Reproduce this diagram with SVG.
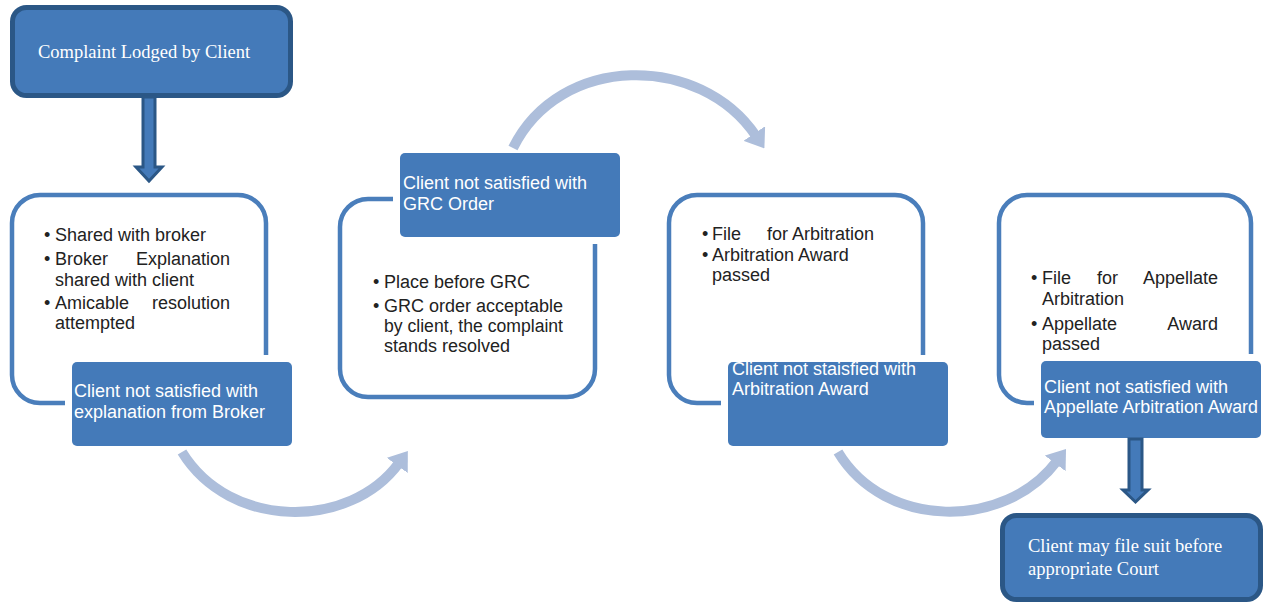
<svg xmlns="http://www.w3.org/2000/svg" width="1265" height="603" viewBox="0 0 1265 603">
<style>
.bg{fill:#ffffff}
.term{fill:#447ab9;stroke:#2b5786;stroke-width:5}
.frame{fill:none;stroke:#4a7ebb;stroke-width:4.5}
.lab{fill:#447ab9;stroke:#ffffff;stroke-width:14;paint-order:stroke}
.blk{fill:#447ab9;stroke:#2b5786;stroke-width:3;stroke-linejoin:miter}
.arc{fill:none;stroke:#adbedb;stroke-width:10}
.ser{font-family:"Liberation Serif","Times New Roman",serif;font-size:18.5px;fill:#ffffff}
.l{font-family:"Liberation Sans",Arial,sans-serif;font-size:18px;fill:#ffffff}
.b{font-family:"Liberation Sans",Arial,sans-serif;font-size:18px;fill:#222222}
</style>
<defs>
<marker id="ah" markerUnits="userSpaceOnUse" viewBox="0 0 18 26" refX="3" refY="13" markerWidth="18" markerHeight="26" orient="auto">
<path d="M0,0 L18,13 L0,26 Z" fill="#adbedb"/>
</marker>
</defs>
<rect class="bg" x="0" y="0" width="1265" height="603"/>

<g id="start">
<rect class="term" x="12.5" y="7.5" width="278" height="88" rx="14"/>
<text class="ser" x="38" y="58">Complaint Lodged by Client</text>
</g>

<g id="step1">
<rect class="frame" x="12" y="195" width="254" height="208" rx="28"/>
<text class="b" x="44" y="241">•</text><text class="b" x="55" y="241">Shared with broker</text>
<text class="b" x="44" y="265">•</text><text class="b" x="55" y="265">Broker</text><text class="b" x="230" y="265" text-anchor="end">Explanation</text>
<text class="b" x="55" y="286">shared with client</text>
<text class="b" x="44" y="309">•</text><text class="b" x="55" y="309">Amicable</text><text class="b" x="230" y="309" text-anchor="end">resolution</text>
<text class="b" x="55" y="329">attempted</text>
</g>
<g id="label1">
<rect class="lab" x="72" y="362" width="220" height="84" rx="5"/>
<text class="l" x="74" y="397">Client not satisfied with</text>
<text class="l" x="74" y="418">explanation from Broker</text>
</g>

<g id="step2">
<rect class="frame" x="340" y="199" width="255" height="198" rx="28"/>
<text class="b" x="373" y="288">•</text><text class="b" x="384" y="288">Place before GRC</text>
<text class="b" x="373" y="312">•</text><text class="b" x="384" y="312" textLength="179" lengthAdjust="spacing">GRC order acceptable</text>
<text class="b" x="384" y="332" textLength="179" lengthAdjust="spacingAndGlyphs">by client, the complaint</text>
<text class="b" x="384" y="352">stands resolved</text>
</g>
<g id="label2">
<rect class="lab" x="400" y="153" width="220" height="84" rx="5"/>
<text class="l" x="403" y="189">Client not satisfied with</text>
<text class="l" x="403" y="210">GRC Order</text>
</g>

<g id="step3">
<rect class="frame" x="669" y="195" width="254" height="208" rx="28"/>
<text class="b" x="702" y="240">•</text><text class="b" x="712" y="240">File</text><text class="b" x="767" y="240">for Arbitration</text>
<text class="b" x="702" y="261">•</text><text class="b" x="712" y="261">Arbitration Award</text>
<text class="b" x="712" y="281">passed</text>
</g>
<g id="label3">
<rect class="lab" x="728" y="362" width="220" height="84" rx="5"/>
<text class="l" x="732" y="375">Client not staisfied with</text>
<text class="l" x="732" y="395">Arbitration Award</text>
</g>

<g id="step4">
<rect class="frame" x="999" y="195" width="252" height="208" rx="28"/>
<text class="b" x="1031" y="284">•</text><text class="b" x="1042" y="284">File</text><text class="b" x="1097" y="284">for</text><text class="b" x="1218" y="284" text-anchor="end">Appellate</text>
<text class="b" x="1042" y="305">Arbitration</text>
<text class="b" x="1031" y="330">•</text><text class="b" x="1042" y="330">Appellate</text><text class="b" x="1218" y="330" text-anchor="end">Award</text>
<text class="b" x="1042" y="350">passed</text>
</g>
<g id="label4">
<rect class="lab" x="1041" y="361" width="220" height="77" rx="5"/>
<text class="l" x="1044" y="393">Client not satisfied with</text>
<text class="l" x="1044" y="413" textLength="214" lengthAdjust="spacingAndGlyphs">Appellate Arbitration Award</text>
</g>

<g id="end">
<rect class="term" x="1002.5" y="515.5" width="258" height="84" rx="14"/>
<text class="ser" x="1028" y="552">Client may file suit before</text>
<text class="ser" x="1028" y="575">appropriate Court</text>
</g>

<g id="connectors">
<polygon class="blk" points="143,97 155,97 155,167 162,167 149,181 136,167 143,167"/>
<polygon class="blk" points="1129,439 1142,439 1142,490 1148,490 1135.5,502 1123,490 1129,490"/>
<path class="arc" d="M182,452 C230,530 350,530 399,463" marker-end="url(#ah)"/>
<path class="arc" d="M513,148 C560,53 700,53 756,136" marker-end="url(#ah)"/>
<path class="arc" d="M838,452 C885,530 1005,530 1057,461" marker-end="url(#ah)"/>
</g>
</svg>
